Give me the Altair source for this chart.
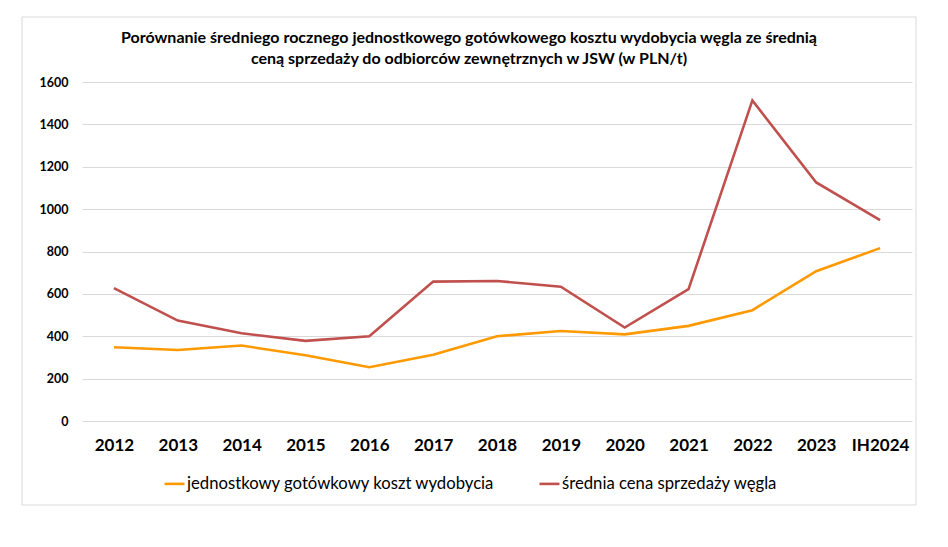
import altair as alt
import pandas as pd

years = ["2012", "2013", "2014", "2015", "2016", "2017", "2018", "2019",
         "2020", "2021", "2022", "2023", "IH2024"]
cost = [348, 335, 356, 310, 254, 313, 400, 425, 409, 449, 523, 707, 816]
price = [627, 474, 414, 378, 400, 658, 661, 634, 441, 622, 1513, 1126, 948]
series = ["jednostkowy gotówkowy koszt wydobycia", "średnia cena sprzedaży węgla"]
colors = ["#FF9900", "#C0504D"]
title_lines = [
    "Porównanie średniego rocznego jednostkowego gotówkowego kosztu wydobycia węgla ze średnią",
    "ceną sprzedaży do odbiorców zewnętrznych w JSW (w PLN/t)",
]

rows = []
for s, vals in zip(series, [cost, price]):
    for y, v in zip(years, vals):
        rows.append({"year": y, "value": v, "series": s})
df = pd.DataFrame(rows)

FONT = "Lato"
one = pd.DataFrame({"a": [0]})

frame = alt.Chart(one).mark_rect(
    fillOpacity=0, stroke="#D9D9D9", strokeWidth=1
).encode(
    x=alt.value(-60), x2=alt.value(834), y=alt.value(-65), y2=alt.value(423)
)

title_layers = [
    alt.Chart(one).mark_text(font=FONT, fontSize=16, fontWeight="bold", color="#000000",
                             align="center", baseline="alphabetic").encode(
        x=alt.value(387), y=alt.value(yy), text=alt.value(t))
    for t, yy in zip(title_lines, [-39, -18])
]

lines = alt.Chart(df).mark_line(strokeWidth=2.6).encode(
    x=alt.X("year:N", sort=years, title=None,
            scale=alt.Scale(padding=0.5),
            axis=alt.Axis(labelAngle=0, grid=False, domain=False, ticks=False,
                          labelFont=FONT, labelFontSize=17, labelFontWeight="bold",
                          labelColor="#000000", labelPadding=16)),
    y=alt.Y("value:Q", title=None,
            scale=alt.Scale(domain=[0, 1600], nice=False),
            axis=alt.Axis(values=[0, 200, 400, 600, 800, 1000, 1200, 1400, 1600],
                          format="d",
                          grid=True, gridColor="#D9D9D9", gridWidth=1,
                          domain=False, ticks=False,
                          labelFont=FONT, labelFontSize=12.5, labelFontWeight="bold",
                          labelColor="#000000", labelPadding=14)),
    color=alt.Color("series:N", sort=series,
                    scale=alt.Scale(domain=series, range=colors),
                    legend=alt.Legend(title=None, orient="none", legendX=81, legendY=390,
                                      direction="horizontal", symbolType="stroke",
                                      symbolSize=400, symbolStrokeWidth=2.6,
                                      labelFont=FONT, labelFontSize=16.7,
                                      labelColor="#000000", labelOffset=1,
                                      columnPadding=39, labelLimit=500)),
)

chart = alt.layer(frame, *title_layers, lines).properties(
    width=830, height=339,
    padding={"left": 74, "top": 74, "right": 28, "bottom": 100},
    autosize=alt.AutoSizeParams(type="none"),
).configure_view(stroke=None)

chart.save("out.html", embed_options={"renderer": "svg", "actions": False})
